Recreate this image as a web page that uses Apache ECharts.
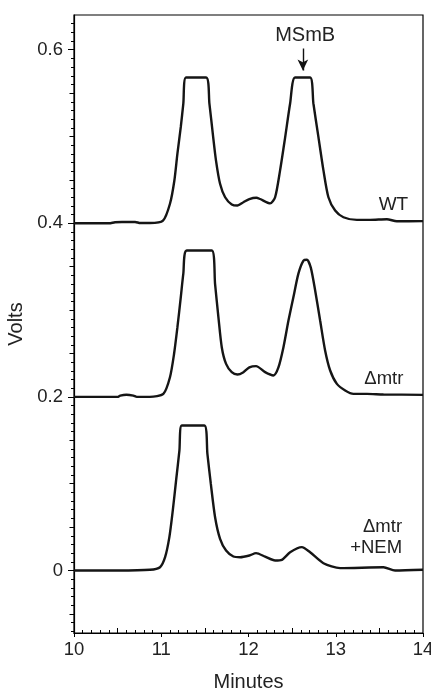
<!DOCTYPE html>
<html>
<head>
<meta charset="utf-8">
<script src="https://cdn.jsdelivr.net/npm/echarts@6/dist/echarts.min.js"></script>
<style>
html,body{margin:0;padding:0;background:#fff;}
#chart{width:431px;height:693px;}
</style>
</head>
<body>
<div id="chart"></div>
<script>
// ---- data (minutes, volts) ----
const wtTime  = [10.00,10.40,10.47,10.55,10.70,10.76,10.87,11.02,11.10,11.15,11.185,11.224,11.253,11.284,11.514,11.552,11.591,11.628,11.674,11.732,11.808,11.873,11.942,12.01,12.09,12.133,12.248,12.305,12.362,12.42,12.477,12.534,12.706,12.744,12.802,12.859,12.916,12.993,13.088,13.242,13.394,13.586,13.70,14.00];
const wtVolts = [0.400,0.400,0.4012,0.4016,0.4016,0.4003,0.4003,0.403,0.4225,0.449,0.480,0.511,0.538,0.568,0.568,0.538,0.503,0.472,0.4455,0.430,0.4217,0.4205,0.4243,0.428,0.4295,0.428,0.423,0.430,0.461,0.499,0.538,0.568,0.568,0.538,0.499,0.461,0.430,0.4147,0.407,0.404,0.404,0.4047,0.4024,0.4025];

const mtrTime  = [10.00,10.50,10.53,10.60,10.68,10.72,10.87,11.024,11.10,11.147,11.185,11.224,11.253,11.292,11.579,11.617,11.655,11.694,11.743,11.808,11.873,11.942,12.01,12.087,12.19,12.286,12.343,12.40,12.458,12.515,12.572,12.63,12.669,12.714,12.764,12.821,12.878,12.936,13.013,13.108,13.203,13.357,13.547,14.00];
const mtrVolts = [0.200,0.200,0.2015,0.2025,0.2015,0.200,0.200,0.2035,0.2227,0.2497,0.280,0.315,0.342,0.3687,0.3687,0.330,0.292,0.257,0.238,0.2285,0.2258,0.2285,0.234,0.2355,0.2285,0.2247,0.234,0.257,0.288,0.315,0.342,0.357,0.358,0.349,0.3226,0.288,0.2535,0.2304,0.215,0.2074,0.2035,0.2035,0.2028,0.2024];

const nemTime  = [10.00,10.50,10.87,10.986,11.044,11.093,11.132,11.17,11.208,11.235,11.494,11.529,11.568,11.617,11.674,11.743,11.827,11.904,12.01,12.087,12.19,12.305,12.382,12.477,12.611,12.706,12.859,13.05,13.547,13.68,14.00];
const nemVolts = [0.000,0.000,0.0008,0.0038,0.0153,0.0384,0.069,0.1037,0.138,0.167,0.167,0.1344,0.100,0.0614,0.0365,0.023,0.0161,0.0153,0.0173,0.020,0.016,0.0115,0.0123,0.021,0.0269,0.021,0.0084,0.0027,0.0038,0.000,0.0008];

// ---- axis ticks ----
const xTickValues = [10,11,12,13,14];
const yTickValues = [0,0.2,0.4,0.6];
const xMin = 10, xMax = 14;
const yMin = -0.072, yMax = 0.64;

// ---- annotations ----
const traceLabels = [
  {text:'WT', t:13.83, v:0.4217},
  {text:'\u0394mtr', t:13.775, v:0.2212},
  {text:'\u0394mtr\n+NEM', t:13.76, v:0.038}
];
const peakLabel = {text:'MSmB', t:12.649, v:0.6164};
const arrowFrom = [12.623, 0.6014];
const arrowTo = [12.623, 0.576];

function rng(a,b,step){const out=[];for(let i=Math.round(a/step);i<=Math.round(b/step);i++)out.push(+(i*step).toFixed(4));return out;}
const xMinor = rng(10,14,0.1).filter(v=>Math.abs(v*2-Math.round(v*2))>1e-6);
const xMid = rng(10,14,0.5).filter(v=>Math.abs(v-Math.round(v))>1e-6);
const yMinor = rng(-0.07,0.63,0.01).filter(v=>Math.abs(v*20-Math.round(v*20))>1e-6);
const yMid = rng(-0.05,0.6,0.05).filter(v=>Math.abs(v*5-Math.round(v*5))>1e-6);

const FONT = '"Liberation Sans", Arial, Helvetica, sans-serif';
const TXT = '#222';
const LINE = '#151515';

function zip(a,b){return a.map((x,i)=>[x,b[i]]);}

function extraX(vals,len,inside){
  return {type:'value',min:xMin,max:xMax,position:'bottom',
    axisLine:{show:false,onZero:false},splitLine:{show:false},axisLabel:{show:false},
    axisTick:{show:true,inside:inside,length:len,customValues:vals,lineStyle:{color:'#000',width:1}}};
}
function extraY(vals,len){
  return {type:'value',min:yMin,max:yMax,position:'left',
    axisLine:{show:false,onZero:false},splitLine:{show:false},axisLabel:{show:false},
    axisTick:{show:true,inside:false,length:len,customValues:vals,lineStyle:{color:'#000',width:1}}};
}

const chart = echarts.init(document.getElementById('chart'), null, {renderer:'canvas'});
chart.setOption({
  animation:false,
  backgroundColor:'#fff',
  grid:{left:74,right:8,top:15,bottom:60,containLabel:false,outerBoundsMode:'none',show:true,borderColor:'#000',borderWidth:1.2,backgroundColor:'transparent'},
  xAxis:[
    {type:'value',min:xMin,max:xMax,position:'bottom',
     name:'Minutes',nameLocation:'middle',nameGap:39,
     nameTextStyle:{fontFamily:FONT,fontSize:20,color:TXT},
     axisLine:{show:true,onZero:false,lineStyle:{color:'#000',width:1.2}},
     splitLine:{show:false},
     axisTick:{show:true,inside:false,length:4,customValues:xTickValues,lineStyle:{color:'#000',width:1}},
     axisLabel:{customValues:xTickValues,margin:7,fontFamily:FONT,fontSize:18.5,color:TXT,formatter:v=>String(v)}},
    extraX(xMid,5,true),
    extraX(xMinor,3,true)
  ],
  yAxis:[
    {type:'value',min:yMin,max:yMax,position:'left',
     name:'Volts',nameLocation:'middle',nameGap:44,
     nameTextStyle:{fontFamily:FONT,fontSize:20,color:TXT},
     axisLine:{show:true,onZero:false,lineStyle:{color:'#000',width:1.2}},
     splitLine:{show:false},
     axisTick:{show:true,inside:false,length:6,customValues:yTickValues,lineStyle:{color:'#000',width:1}},
     axisLabel:{customValues:yTickValues,margin:11,fontFamily:FONT,fontSize:18.5,color:TXT,formatter:v=>(v===0?'0':v.toFixed(1))}},
    extraY(yMid,4.5),
    extraY(yMinor,3)
  ],
  series:[
    {type:'line',name:'WT',data:zip(wtTime,wtVolts),showSymbol:false,symbol:'none',smooth:0.25,
     lineStyle:{color:LINE,width:2.4},z:5,
     markPoint:{symbol:'circle',symbolSize:0,silent:true,
       data:[
         {coord:[traceLabels[0].t,traceLabels[0].v],label:{show:true,formatter:traceLabels[0].text,align:'right',verticalAlign:'middle',position:'inside',fontFamily:FONT,fontSize:19,color:TXT}},
         {coord:[peakLabel.t,peakLabel.v],label:{show:true,formatter:peakLabel.text,align:'center',verticalAlign:'middle',position:'inside',fontFamily:FONT,fontSize:20,color:TXT}}
       ]},
     markLine:{silent:true,symbol:['none','arrow'],symbolSize:[8,11],label:{show:false},
       lineStyle:{color:'#111',width:1.4,type:'solid'},
       data:[[{coord:arrowFrom},{coord:arrowTo}]]}
    },
    {type:'line',name:'mtr',data:zip(mtrTime,mtrVolts),showSymbol:false,symbol:'none',smooth:0.25,
     lineStyle:{color:LINE,width:2.4},z:5,
     markPoint:{symbol:'circle',symbolSize:0,silent:true,
       data:[{coord:[traceLabels[1].t,traceLabels[1].v],label:{show:true,formatter:traceLabels[1].text,align:'right',verticalAlign:'middle',position:'inside',fontFamily:FONT,fontSize:18.5,color:TXT}}]}
    },
    {type:'line',name:'nem',data:zip(nemTime,nemVolts),showSymbol:false,symbol:'none',smooth:0.25,
     lineStyle:{color:LINE,width:2.4},z:5,
     markPoint:{symbol:'circle',symbolSize:0,silent:true,
       data:[{coord:[traceLabels[2].t,traceLabels[2].v],label:{show:true,formatter:traceLabels[2].text,align:'right',verticalAlign:'middle',position:'inside',lineHeight:21,fontFamily:FONT,fontSize:18.5,color:TXT}}]}
    }
  ]
});
</script>
</body>
</html>
